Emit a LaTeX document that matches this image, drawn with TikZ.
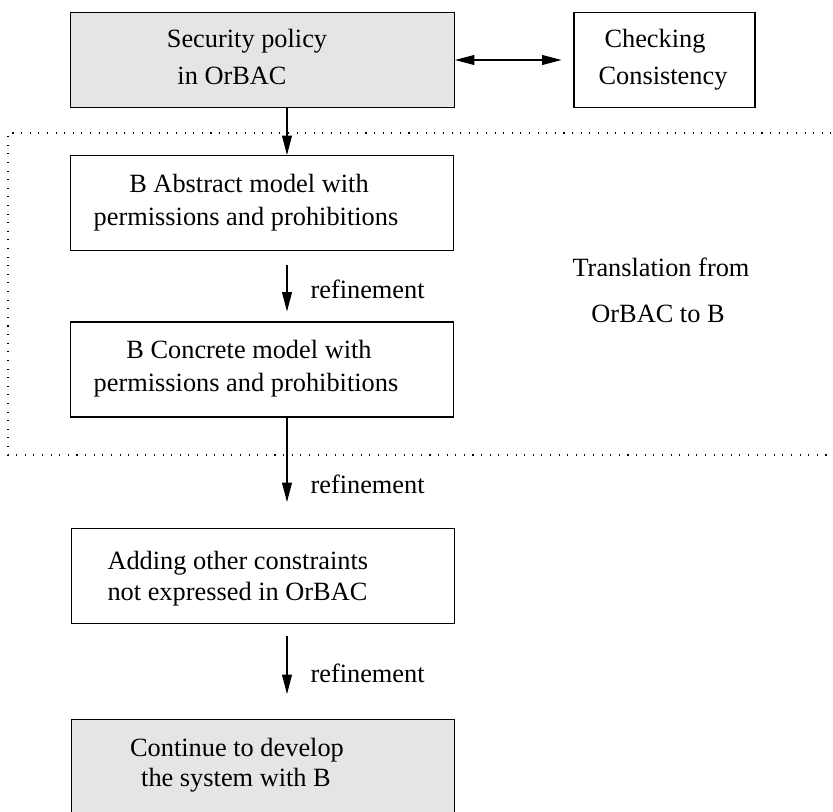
\documentclass[tikz,border=0pt]{standalone}
\usepackage{fontspec}
\setmainfont{Liberation Serif}
\usetikzlibrary{arrows.meta}
\definecolor{FigGray}{HTML}{E5E5E5}

\begin{document}
\begin{tikzpicture}[x=0.02cm,y=-0.02cm,line width=0.6pt,
  font=\fontsize{15}{18}\selectfont,
  box/.style={draw, rectangle, inner sep=0pt, minimum width=7.68cm, minimum height=1.9cm},
  shaded/.style={box, fill=FigGray},
  txt/.style={inner sep=0pt, anchor=base},
  arr/.style={-{Triangle[length=11pt,width=5.6pt]}},
  frame/.style={dash pattern=on 0.6pt off 4.3pt}]
  \clip (0,0) rectangle (833,812);
  % boxes
  \node[shaded] (secpol) at (262.5,60) {};
  \node[box, minimum width=3.62cm] (checking) at (664.5,60) {};
  \node[box] (abstract) at (262,203) {};
  \node[box] (concrete) at (262,369.5) {};
  \node[box] (adding) at (263,576) {};
  \node[shaded] (develop) at (263,767) {};
  \coordinate (col) at (287,0);
  % texts
  \node[txt] (secpol1) at (247,47) {Security policy};
  \node[txt] (secpol2) at (232,84) {in OrBAC};
  \node[txt] (check1) at (655,47) {Checking};
  \node[txt] (check2) at (663,84) {Consistency};
  \node[txt] (abs1) at (249,192) {B Abstract model with};
  \node[txt] (abs2) at (246,225) {permissions and prohibitions};
  \node[txt] (con1) at (249,358) {B Concrete model with};
  \node[txt] (con2) at (246,391) {permissions and prohibitions};
  \node[txt, anchor=base west] (add1) at (107,569) {Adding other constraints};
  \node[txt, anchor=base west] (add2) at (107,600) {not expressed in OrBAC};
  \node[txt] (dev1) at (237,756) {Continue to develop};
  \node[txt] (dev2) at (236,786) {the system with B};
  \node[txt] (trans1) at (661,276) {Translation from};
  \node[txt] (trans2) at (658,322) {OrBAC to B};
  % translation frame, open to the right
  \draw[frame] (840,133) -- (8,133) -- (8,455) -- (840,455);
  % connectors
  \draw[{Triangle[length=11pt,width=5.6pt]}-{Triangle[length=11pt,width=5.6pt]}, shorten >=6.8pt]
    (secpol.east) -- (checking.west);
  \draw[arr] (secpol.south -| col) -- (abstract.north -| col);
  \draw[arr, shorten <=8pt, shorten >=5.7pt] (abstract.south -| col) -- (concrete.north -| col)
    node[txt, anchor=base west, pos=0.5, xshift=0.46cm, yshift=-0.24cm] (ref1) {refinement};
  \draw[arr, shorten >=14.8pt] (concrete.south -| col) -- (adding.north -| col)
    node[txt, anchor=base west, pos=0.5, xshift=0.46cm, yshift=-0.42cm] (ref2) {refinement};
  \draw[arr, shorten <=6.8pt, shorten >=14.2pt] (adding.south -| col) -- (develop.north -| col)
    node[txt, anchor=base west, pos=0.5, xshift=0.46cm, yshift=-0.22cm] (ref3) {refinement};
\end{tikzpicture}
\end{document}
